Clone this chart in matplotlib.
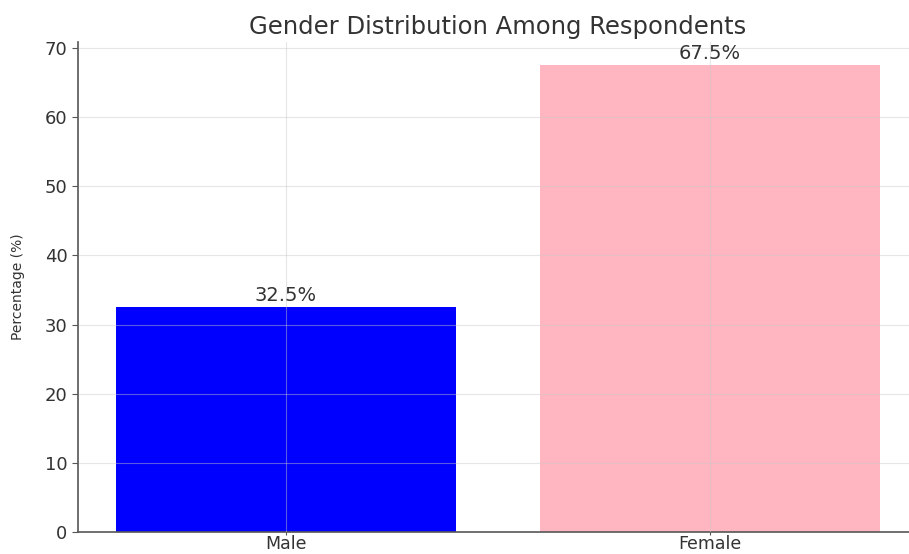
import matplotlib
matplotlib.use("Agg")
import matplotlib.pyplot as plt

# Survey gender breakdown
categories = ["Male", "Female"]
percentages = [32.5, 67.5]
bar_colors = ["blue", "lightpink"]

text_color = "#333333"

fig = plt.figure(figsize=(9.09, 5.54), dpi=100)
ax = fig.add_axes([78 / 909, 22 / 554, 840 / 909, 490 / 554])

bars = ax.bar(categories, percentages, color=bar_colors, width=0.8)

for rect, val in zip(bars, percentages):
    ax.text(rect.get_x() + rect.get_width() / 2, val + 0.4, f"{val}%",
            ha="center", va="bottom", fontsize=14, color=text_color)

ax.set_xlim(-0.49, 1.49)
ax.set_ylim(0, max(percentages) * 1.05)
ax.set_yticks(range(0, 71, 10))

ax.set_title("Gender Distribution Among Respondents", fontsize=17.5,
             color=text_color, pad=6)
ax.set_ylabel("Percentage (%)", fontsize=10, color=text_color, labelpad=14)

ax.grid(True, color="#c8c8c8", alpha=0.45, linewidth=0.8)
ax.set_axisbelow(False)

for side in ("top", "right"):
    ax.spines[side].set_visible(False)
for side in ("left", "bottom"):
    ax.spines[side].set_color("#555555")
    ax.spines[side].set_linewidth(1.2)

ax.tick_params(axis="y", labelsize=13, colors="#555555", length=4,
               labelcolor=text_color)
ax.tick_params(axis="x", labelsize=12.5, colors="#555555", length=2, pad=0.5,
               labelcolor=text_color)

fig.savefig("out.png", dpi=100)
